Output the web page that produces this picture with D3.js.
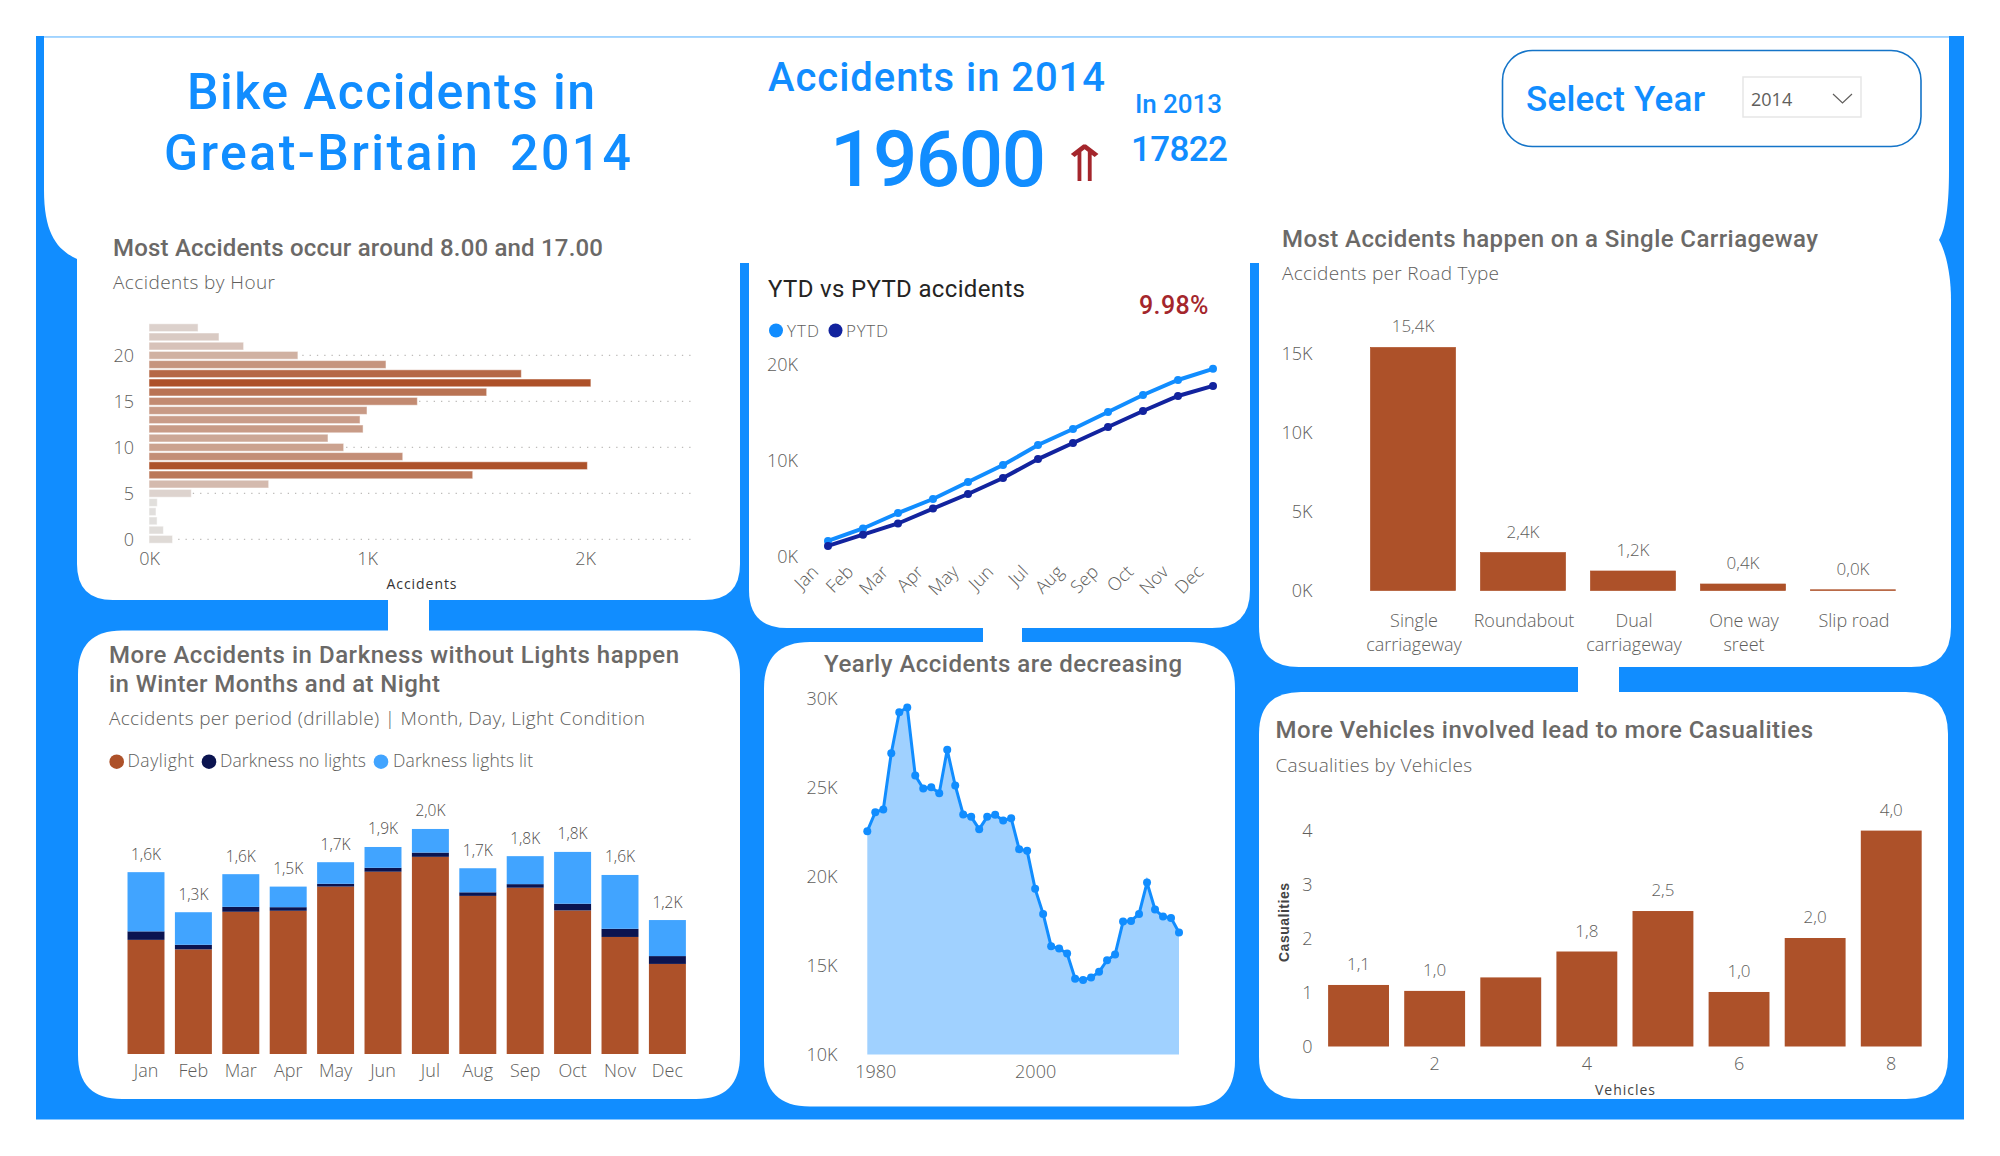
<!DOCTYPE html>
<html><head><meta charset="utf-8">
<script src="https://cdn.jsdelivr.net/npm/d3@7/dist/d3.min.js"></script>
<style>
html,body{margin:0;padding:0;background:#fff}
svg{display:block}
</style></head><body>
<svg id="c" width="2000" height="1156" viewBox="0 0 2000 1156"></svg>
<script>
// ---------- data ----------
const hours = d3.range(24);
const accidentsByHour = [108,66,37,32,38,194,549,1485,2011,1164,893,821,982,968,1000,1231,1549,2027,1708,1087,683,434,321,225];
const months = ["Jan","Feb","Mar","Apr","May","Jun","Jul","Aug","Sep","Oct","Nov","Dec"];
const ytd  = [1670,2970,4580,6040,7810,9580,11670,13330,15100,16880,18440,19600];
const pytd = [1150,2330,3490,5040,6560,8230,10200,11880,13540,15210,16770,17822];
const roadTypes = [["Single","carriageway"],["Roundabout"],["Dual","carriageway"],["One way","sreet"],["Slip road"]];
const roadValues = [15380,2400,1234,411,45];
const daylight = [1020,935,1271,1280,1496,1629,1762,1413,1486,1283,1046,805];
const darkNoLights = [76,41,44,32,25,35,38,32,32,60,73,70];
const darkLit = [529,291,292,184,193,186,211,215,250,463,481,322];
const lightKeys = ["Daylight","Darkness no lights","Darkness lights lit"];
const years = d3.range(1979,2019);
const yearlyAccidents = [22546,23613,23763,26928,29232,29494,25674,24943,25018,24681,27116,25112,23482,23351,22658,23351,23463,23145,23276,21534,21441,19305,17900,16083,15952,15671,14260,14190,14330,14642,15297,15615,17470,17507,17900,19660,18144,17750,17675,16850];
const vehicles = [1,2,3,4,5,6,7,8];
const casualties = [1.14,1.03,1.28,1.76,2.51,1.01,2.01,4.0];
const unlabelledVehicles = [3];

// ---------- style ----------
const BLUE="#118DFF", BROWN="#AD5129", NAVY="#0B1450", LIT="#41A4FF", PYTD="#12239E", RED="#A4262C", FILL="#A0D1FF", TITLE="#6B6967";
const DIN="Roboto, sans-serif", SEG="'Open Sans', sans-serif";
const svg=d3.select("#c");

function txt(str,x,y,o){
  const t=(o.parent||svg).append("text").attr("x",x).attr("y",y).text(str)
    .attr("font-family",o.font||SEG).attr("font-size",o.size).attr("fill",o.fill||"#605E5C")
    .attr("font-weight",o.weight||(o.font===DIN?500:300)).attr("text-anchor",o.anchor||"start");
  if(o.width) t.attr("textLength",o.width).attr("lengthAdjust","spacing");
  return t;
}
function styleAxis(g,size,fill,font){
  g.select(".domain").remove();
  g.selectAll(".tick line").remove();
  g.selectAll("text").attr("font-family",font||SEG).attr("font-size",size).attr("fill",fill||"#605E5C").attr("font-weight",300);
}
const kFmt=d=>(d/1000)+"K";
const oneK=d=>d3.format(".1f")(d/1000).replace(".",",")+"K";
function roundedBottom(x0,x1,y0,y1,r){return `M${x0} ${y0}H${x1}V${y1-r}Q${x1} ${y1} ${x1-r} ${y1}H${x0+r}Q${x0} ${y1} ${x0} ${y1-r}Z`;}
function roundedAll(x0,x1,y0,y1,r){return `M${x0+r} ${y0}H${x1-r}Q${x1} ${y0} ${x1} ${y0+r}V${y1-r}Q${x1} ${y1} ${x1-r} ${y1}H${x0+r}Q${x0} ${y1} ${x0} ${y1-r}V${y0+r}Q${x0} ${y0} ${x0+r} ${y0}Z`;}

// ---------- backdrop ----------
svg.append("rect").attr("x",36).attr("y",36).attr("width",1928).attr("height",1083.5).attr("fill",BLUE);
svg.append("rect").attr("x",44).attr("y",36).attr("width",1905).attr("height",1.5).attr("fill","#9FD3FF");
const panels=svg.append("g").attr("fill","#fff");
panels.append("path").attr("d","M44 37.5H1949V170C1949 205 1946 228 1939 240L1939 263H77V259C58 250 44 235 44 190Z");
panels.append("path").attr("d",roundedBottom(77,740,255,600,36));
panels.append("path").attr("d",roundedBottom(749,1250,255,628,38));
panels.append("path").attr("d","M1259 240H1939C1946 252 1951 275 1951 300V627Q1951 667 1911 667H1299Q1259 667 1259 627Z");
panels.append("path").attr("d",roundedAll(78,740,630.5,1099,44));
panels.append("path").attr("d",roundedAll(764,1235,642,1106.5,46));
panels.append("path").attr("d",roundedAll(1259,1948,692,1099,42));
panels.append("rect").attr("x",388).attr("y",598).attr("width",41).attr("height",36);
panels.append("rect").attr("x",983).attr("y",626).attr("width",39).attr("height",20);
panels.append("rect").attr("x",1578).attr("y",665).attr("width",41).attr("height",31);

// ---------- header ----------
txt("Bike Accidents in",187,109,{font:DIN,size:50,fill:BLUE,width:408});
txt("Great-Britain  2014",164,170,{font:DIN,size:50,fill:BLUE,width:467}).attr("xml:space","preserve").style("white-space","pre");
txt("Accidents in 2014",768,91,{font:DIN,size:40,fill:BLUE,width:337});
txt("19600",830,185.5,{font:DIN,size:78,fill:BLUE,width:216});
txt("⇑",0,0,{font:"'DejaVu Sans'",size:50,fill:RED,anchor:"middle",weight:400}).attr("transform","translate(1085,181) scale(1.3,1)");
txt("In 2013",1135,113,{font:DIN,size:26,fill:BLUE,width:87});
txt("17822",1131,160.5,{font:DIN,size:35,fill:BLUE,width:97});
svg.append("rect").attr("x",1502.5).attr("y",50.5).attr("width",418.5).attr("height",96).attr("rx",30).attr("fill","#fff").attr("stroke","#1474C8").attr("stroke-width",1.6);
txt("Select Year",1526,111,{font:DIN,size:35,fill:BLUE,width:179});
svg.append("rect").attr("x",1743).attr("y",77).attr("width",118).attr("height",40).attr("fill","#fff").attr("stroke","#E6E6E6").attr("stroke-width",1.5);
txt("2014",1751,106,{size:18,fill:"#605E5C",weight:400});
svg.append("path").attr("d","M1833 94L1842.5 103L1852 94").attr("fill","none").attr("stroke","#605E5C").attr("stroke-width",1.2);

// ---------- accidents by hour ----------
txt("Most Accidents occur around 8.00 and 17.00",113,255.5,{font:DIN,size:24,width:490,fill:TITLE});
txt("Accidents by Hour",113,289,{size:19,width:162});
{
  const x=d3.scaleLinear().domain([0,2500]).range([149,694]);
  const y=d3.scaleLinear().domain([0,20]).range([539.3,355.3]);
  const color=d3.scaleLinear().domain(d3.extent(accidentsByHour)).range(["#E1DFDD",BROWN]);
  const gy=svg.append("g").attr("transform","translate(149,0)").call(d3.axisLeft(y).tickValues([0,5,10,15,20]).tickSize(0).tickPadding(15));
  styleAxis(gy,18);
  const gx=svg.append("g").attr("transform","translate(0,552)").call(d3.axisBottom(x).tickValues([0,1000,2000]).tickFormat(kFmt).tickSize(0).tickPadding(0));
  styleAxis(gx,18);
  svg.append("g").selectAll("line").data([0,5,10,15,20]).join("line")
    .attr("x1",x(0)).attr("x2",692).attr("y1",d=>y(d)).attr("y2",d=>y(d))
    .attr("stroke","#BDBBB9").attr("stroke-width",1.3).attr("stroke-dasharray","1.3 6");
  svg.append("g").selectAll("rect").data(hours).join("rect")
    .attr("x",x(0)).attr("y",d=>y(d)-3.9).attr("height",7.8)
    .attr("width",d=>x(accidentsByHour[d])-x(0)).attr("fill",d=>color(accidentsByHour[d]))
    .attr("stroke","#fff").attr("stroke-opacity",.5).attr("stroke-width",1);
  txt("Accidents",421.5,589,{size:14,fill:"#333",anchor:"middle",weight:500,width:70});
}

// ---------- YTD vs PYTD ----------
txt("YTD vs PYTD accidents",768,297,{font:DIN,size:24,fill:"#252423",width:257,weight:400});
txt("9.98%",1139,314,{font:DIN,size:25,fill:RED,width:69.5});
[["YTD",776,787,32,BLUE],["PYTD",835.5,846,42,PYTD]].forEach(([s,cx,tx,w,c])=>{
  svg.append("circle").attr("cx",cx).attr("cy",330.5).attr("r",7).attr("fill",c);
  txt(s,tx,337,{size:17,width:w});
});
{
  const x=d3.scalePoint().domain(months).range([828,1213]);
  const y=d3.scaleLinear().domain([0,20000]).range([557,365]);
  const gy=svg.append("g").attr("transform","translate(798,0)").call(d3.axisLeft(y).tickValues([0,10000,20000]).tickFormat(kFmt).tickSize(0).tickPadding(0));
  styleAxis(gy,18);
  const gx=svg.append("g").attr("transform","translate(0,568)").call(d3.axisBottom(x).tickSize(0).tickPadding(0));
  styleAxis(gx,18);
  gx.selectAll("text").attr("text-anchor","end").attr("dy",0).attr("y",0).attr("transform","translate(-9,5) rotate(-45)");
  const line=d3.line().x((d,i)=>x(months[i])).y(d=>y(d));
  [[ytd,BLUE],[pytd,PYTD]].forEach(([vals,c])=>{
    svg.append("path").datum(vals).attr("d",line).attr("fill","none").attr("stroke",c).attr("stroke-width",4);
    svg.append("g").selectAll("circle").data(vals).join("circle")
      .attr("cx",(d,i)=>x(months[i])).attr("cy",d=>y(d)).attr("r",4).attr("fill",c);
  });
}

// ---------- road type ----------
txt("Most Accidents happen on a Single Carriageway",1282,246.5,{font:DIN,size:24,width:536,fill:TITLE});
txt("Accidents per Road Type",1282,279.5,{size:19,width:217});
{
  const keys=roadTypes.map(d=>d.join(" "));
  const x=d3.scaleBand().domain(keys).range([1358,1908]).paddingInner(.227).paddingOuter(.1135);
  const y=d3.scaleLinear().domain([0,15000]).range([590.5,353.5]);
  const gy=svg.append("g").attr("transform","translate(1312.5,0)").call(d3.axisLeft(y).tickValues([0,5000,10000,15000]).tickFormat(kFmt).tickSize(0).tickPadding(0));
  styleAxis(gy,18);
  const gx=svg.append("g").attr("transform","translate(1,627)").call(d3.axisBottom(x).tickSize(0).tickPadding(0).tickFormat(""));
  styleAxis(gx,18);
  gx.selectAll(".tick text").attr("y",0).attr("dy",0).each(function(d,i){
    const t=d3.select(this);
    roadTypes[i].forEach((l,j)=>t.append("tspan").attr("x",0).attr("y",j*24).text(l));
  });
  const g=svg.append("g");
  g.selectAll("rect").data(keys).join("rect").attr("x",d=>x(d)).attr("width",x.bandwidth())
    .attr("y",(d,i)=>y(roadValues[i])).attr("height",(d,i)=>y(0)-y(roadValues[i])).attr("fill",BROWN)
    .attr("stroke",BROWN).attr("stroke-width",.7);
  g.selectAll("text").data(keys).join("text").attr("x",d=>x(d)+x.bandwidth()/2).attr("y",(d,i)=>y(roadValues[i])-15)
    .attr("text-anchor","middle").attr("font-family",SEG).attr("font-weight",300).attr("font-size",17).attr("fill","#605E5C").text((d,i)=>oneK(roadValues[i]));
}

// ---------- light conditions ----------
txt("More Accidents in Darkness without Lights happen",109,663,{font:DIN,size:24,width:570,fill:TITLE});
txt("in Winter Months and at Night",109,692,{font:DIN,size:24,width:331,fill:TITLE});
txt("Accidents per period (drillable) | Month, Day, Light Condition",109,725,{size:19,width:536});
[[lightKeys[0],116.7,127.5,66.5,BROWN],[lightKeys[1],209,220,146,NAVY],[lightKeys[2],381,393,140,LIT]].forEach(([s,cx,tx,w,c])=>{
  svg.append("circle").attr("cx",cx).attr("cy",761.7).attr("r",7.3).attr("fill",c);
  txt(s,tx,767,{size:17.5,width:w});
});
{
  const x=d3.scaleBand().domain(months).range([122.3,691.1]).paddingInner(.22).paddingOuter(.11);
  const y=d3.scaleLinear().domain([0,2000]).range([1054,830.2]);
  const rows=months.map((m,i)=>({m,[lightKeys[0]]:daylight[i],[lightKeys[1]]:darkNoLights[i],[lightKeys[2]]:darkLit[i]}));
  const stacked=d3.stack().keys(lightKeys)(rows);
  const col=d3.scaleOrdinal().domain(lightKeys).range([BROWN,NAVY,LIT]);
  const gx=svg.append("g").attr("transform","translate(0,1064.5)").call(d3.axisBottom(x).tickSize(0).tickPadding(0));
  styleAxis(gx,18);
  svg.append("g").selectAll("g").data(stacked).join("g").attr("fill",s=>col(s.key))
    .selectAll("rect").data(s=>s).join("rect").attr("x",d=>x(d.data.m)).attr("width",x.bandwidth())
    .attr("y",d=>y(d[1])).attr("height",d=>y(d[0])-y(d[1]));
  svg.append("g").selectAll("text").data(rows).join("text")
    .attr("x",d=>x(d.m)+x.bandwidth()/2)
    .attr("y",(d,i)=>y(daylight[i]+darkNoLights[i]+darkLit[i])-12.5)
    .attr("text-anchor","middle").attr("font-family",SEG).attr("font-weight",300).attr("font-size",15.5).attr("fill","#504E4C")
    .text((d,i)=>oneK(daylight[i]+darkNoLights[i]+darkLit[i]));
}

// ---------- yearly ----------
txt("Yearly Accidents are decreasing",824,671.5,{font:DIN,size:24,width:358,fill:TITLE});
{
  const x=d3.scaleLinear().domain([1979,2018]).range([867.3,1179]);
  const y=d3.scaleLinear().domain([10000,30000]).range([1054.5,698.5]);
  const gy=svg.append("g").attr("transform","translate(837.5,0)").call(d3.axisLeft(y).tickValues([10000,15000,20000,25000,30000]).tickFormat(kFmt).tickSize(0).tickPadding(0));
  styleAxis(gy,18);
  const gx=svg.append("g").attr("transform","translate(0,1065)").call(d3.axisBottom(x).tickValues([1980,2000]).tickFormat(d3.format("d")).tickSize(0).tickPadding(0));
  styleAxis(gx,18);
  const area=d3.area().x((d,i)=>x(years[i])).y0(y(10000)).y1(d=>y(d));
  const line=d3.line().x((d,i)=>x(years[i])).y(d=>y(d));
  svg.append("path").datum(yearlyAccidents).attr("d",area).attr("fill",FILL);
  svg.append("path").datum(yearlyAccidents).attr("d",line).attr("fill","none").attr("stroke",BLUE).attr("stroke-width",3);
  svg.append("g").selectAll("circle").data(yearlyAccidents).join("circle")
    .attr("cx",(d,i)=>x(years[i])).attr("cy",d=>y(d)).attr("r",4).attr("fill",BLUE);
}

// ---------- vehicles ----------
txt("More Vehicles involved lead to more Casualities",1275.5,738,{font:DIN,size:24,width:537.5,fill:TITLE});
txt("Casualities by Vehicles",1275.5,772,{size:19,width:196.5});
{
  const x=d3.scaleBand().domain(vehicles).range([1320.5,1929.3]).paddingInner(.2).paddingOuter(.1);
  const y=d3.scaleLinear().domain([0,4]).range([1046.5,830.6]);
  const gy=svg.append("g").attr("transform","translate(1312.5,0)").call(d3.axisLeft(y).tickValues([0,1,2,3,4]).tickFormat(d3.format("d")).tickSize(0).tickPadding(0));
  styleAxis(gy,18);
  const gx=svg.append("g").attr("transform","translate(0,1057.5)").call(d3.axisBottom(x).tickValues([2,4,6,8]).tickSize(0).tickPadding(0));
  styleAxis(gx,18);
  const g=svg.append("g");
  g.selectAll("rect").data(vehicles).join("rect").attr("x",d=>x(d)).attr("width",x.bandwidth())
    .attr("y",(d,i)=>y(casualties[i])).attr("height",(d,i)=>y(0)-y(casualties[i])).attr("fill",BROWN);
  g.selectAll("text").data(vehicles.filter(v=>!unlabelledVehicles.includes(v))).join("text")
    .attr("x",d=>x(d)+x.bandwidth()/2).attr("y",d=>y(casualties[d-1])-15)
    .attr("text-anchor","middle").attr("font-family",SEG).attr("font-weight",300).attr("font-size",17).attr("fill","#605E5C")
    .text(d=>d3.format(".1f")(casualties[d-1]).replace(".",","));
  txt("Vehicles",1625,1095,{size:14,fill:"#444",anchor:"middle",width:60,weight:400});
  txt("Casualities",0,0,{font:"'Liberation Sans'",size:14,weight:700,fill:"#444",anchor:"middle",width:79})
    .attr("transform","translate(1289,922.5) rotate(-90)");
}
</script>
</body></html>
